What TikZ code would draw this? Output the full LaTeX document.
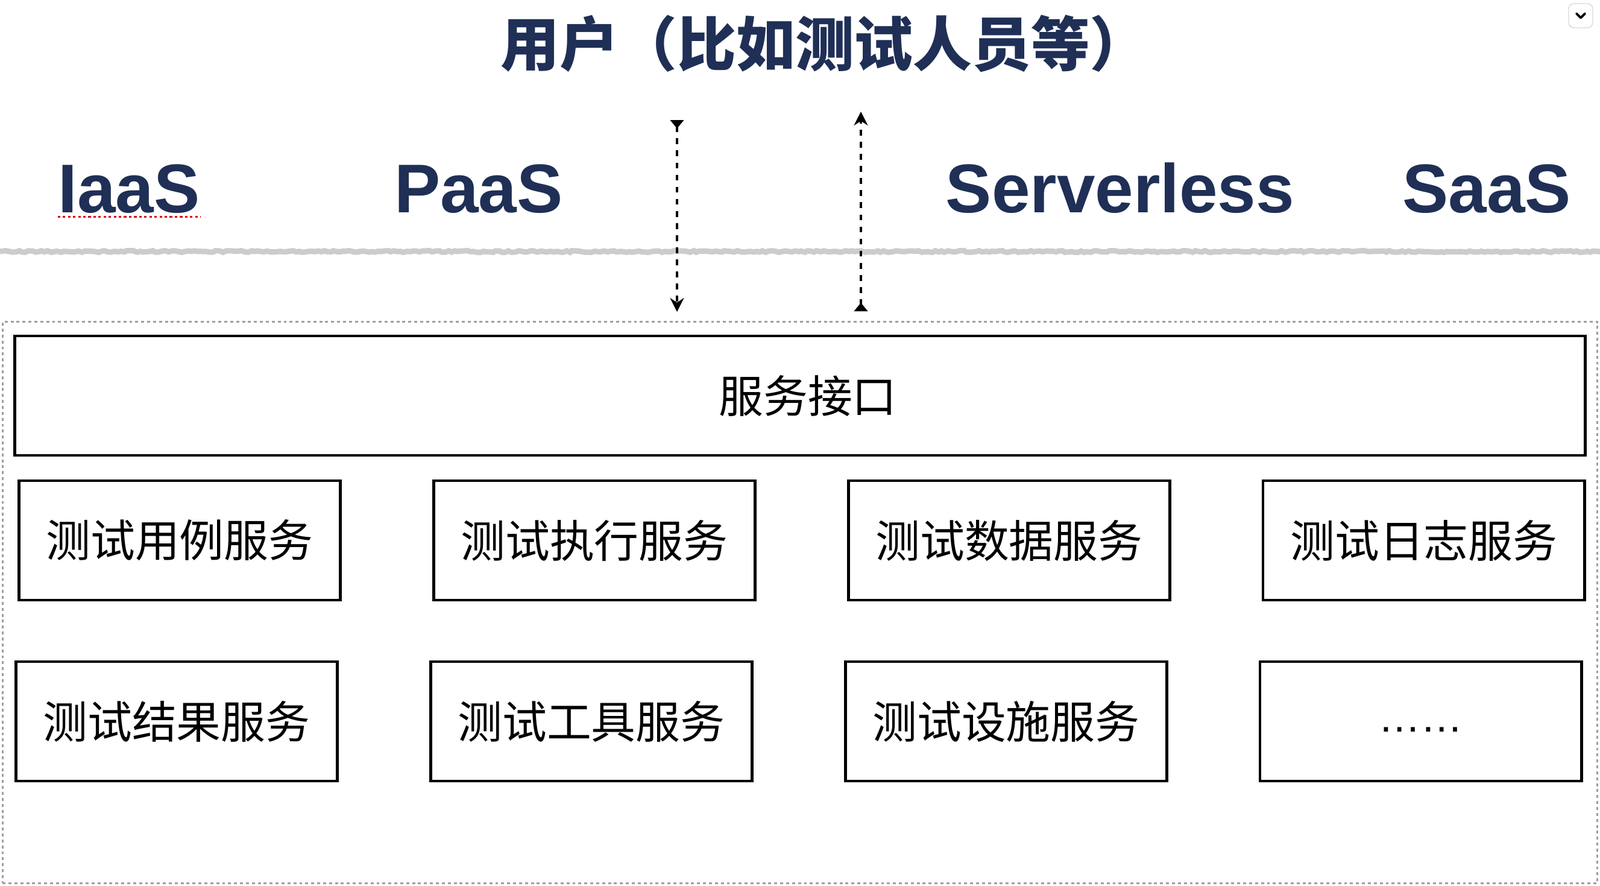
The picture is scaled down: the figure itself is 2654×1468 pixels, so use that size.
\documentclass[tikz,border=0pt]{standalone}
\usepackage{fontspec}
\setmainfont{Liberation Sans}
\newfontfamily\cjk{Noto Sans CJK SC}
\usepackage{tikz}
\usetikzlibrary{positioning,arrows.meta,decorations.pathmorphing}
\definecolor{navy}{RGB}{31,47,86}
\tikzset{
  svcbox/.style={
    draw, line width=1.3pt, fill=white,
    minimum height=1.98cm, minimum width=5.33cm,
    align=center, font=\cjk\fontsize{21}{25}\selectfont, inner sep=0pt
  },
  layerlabel/.style={
    font=\bfseries\fontsize{32.5}{38}\selectfont, text=navy, inner sep=0pt
  },
  flowarrow/.style={
    line width=1.1pt, dash pattern=on 2.8pt off 2.9pt,
    {Triangle[reversed,length=4pt,width=6.3pt]}-{Stealth[length=6.5pt,width=6.5pt]}
  },
  spellmark/.style={red!85!black, line width=0.9pt, dash pattern=on 1.2pt off 1.2pt},
  roughline/.style={gray!40, line width=2.6pt,
    decorate, decoration={random steps, segment length=1.5pt, amplitude=0.4pt}}
}

\begin{document}
\begin{tikzpicture}[x=0.01cm, y=-0.01cm, node distance=1cm and 1.50cm]
  \useasboundingbox (0,0) rectangle (2654,1468);

  % top: users and service layers
  \node[font=\cjk\bfseries\fontsize{27.8}{33}\selectfont, text=navy, inner sep=0pt] (user) at (1368,72) {用户（比如测试人员等）};

  \node[layerlabel, anchor=base] (iaas) at (214,352) {IaaS};
  \node[layerlabel, anchor=base] (paas) at (794,352) {PaaS};
  \node[layerlabel, anchor=base] (serverless) at (1858,352) {Serverless};
  \node[layerlabel, anchor=base] (saas) at (2466,352) {SaaS};
  \draw[spellmark] ([yshift=-2.2pt]iaas.base west) -- ([yshift=-2.2pt]iaas.base east);

  \draw[roughline] (0,417) -- (2654,417);

  % platform
  \node[draw=gray!75, dash pattern=on 1.4pt off 1.4pt, line width=0.8pt,
        minimum width=26.44cm, minimum height=9.30cm, inner sep=0pt] (platform) at (1327,999) {};

  \node[svcbox, minimum width=26.04cm] (iface) at (1327,656) {\hspace*{0.26cm}服务接口};

  \node[svcbox, anchor=west] (case) at (29,896) {测试用例服务};
  \node[svcbox, right=of case] (exec) {测试执行服务};
  \node[svcbox, right=of exec] (data) {测试数据服务};
  \node[svcbox, right=of data] (log) {测试日志服务};

  \node[svcbox, anchor=west] (result) at (24,1196) {测试结果服务};
  \node[svcbox, right=of result] (tool) {测试工具服务};
  \node[svcbox, right=of tool] (infra) {测试设施服务};
  \node[svcbox, right=of infra, font=\fontsize{20}{25}\selectfont] (more) {\strut……};

  % request / response
  \coordinate (reqTop) at (1123,199);
  \coordinate (reqBot) at (1123,517);
  \coordinate (respBot) at (1428,516);
  \coordinate (respTop) at (1428,185);
  \draw[flowarrow] (reqTop) -- (reqBot);
  \draw[flowarrow] (respBot) -- (respTop);

  % corner button
  \node[draw=gray!30, fill=white, rounded corners=2.5pt, minimum size=0.40cm, inner sep=0pt] (menu) at (2622,26) {};
  \draw[line width=1.1pt, line cap=round, line join=round] ([xshift=-2pt,yshift=1pt]menu.center) -- ([yshift=-1pt]menu.center) -- ([xshift=2pt,yshift=1pt]menu.center);
\end{tikzpicture}
\end{document}
